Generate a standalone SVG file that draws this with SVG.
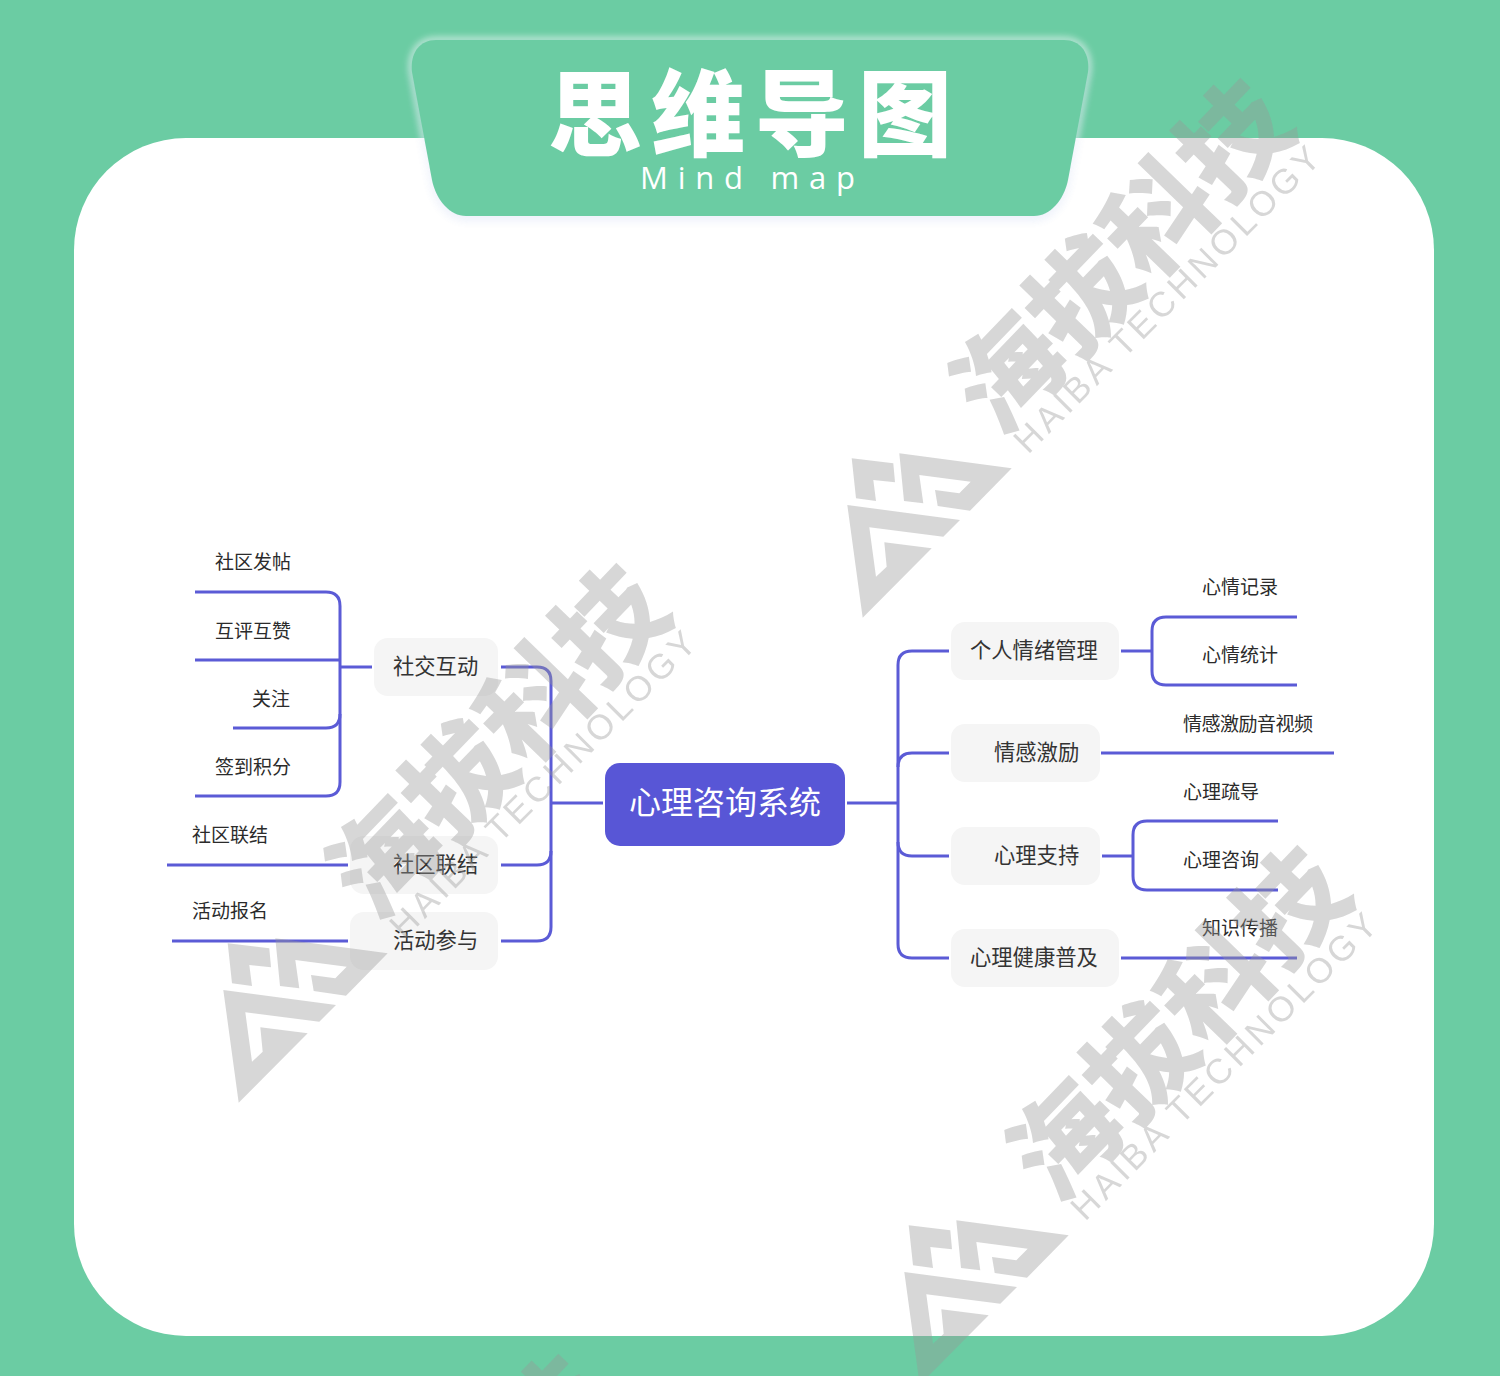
<svg xmlns="http://www.w3.org/2000/svg" width="1500" height="1376" viewBox="0 0 1500 1376">
<style>
text{font-family:"Noto Sans CJK SC","Liberation Sans",sans-serif;dominant-baseline:central}
.box{fill:#f5f5f5}
.n{font-size:21.3px;fill:#333}
.l{font-size:19px;fill:#2b2b2b}
.c{fill:none;stroke:#5b5bd6;stroke-width:3}
.wmT{font-weight:900;font-size:108px}
.wmE{font-family:"Liberation Sans",sans-serif;font-size:35px;dominant-baseline:auto}
</style>
<defs>
<filter id="glow" x="-10%" y="-20%" width="120%" height="140%"><feGaussianBlur stdDeviation="3.5"/></filter>
<filter id="soft" x="-10%" y="-20%" width="120%" height="140%"><feGaussianBlur stdDeviation="5"/></filter>
<path id="tab" d="M436 40H1064C1082 40 1090 55 1088 72L1068 180C1064 200 1050 216 1034 216H466C450 216 436 200 432 180L412 72C410 55 418 40 436 40Z"/>
<g id="wm" fill="#999">
<polygon points="851.7,458.3 893.3,463.3 895,482.3 873.3,480 876,501 856,498.3"/>
<polygon points="899.3,453.3 1011.7,468.3 970,510.7 937.7,506 935,490 959.3,493.3 970.7,481.7 919.3,475 923.3,503.3 904,501"/>
<polygon points="847.3,505 960,520 943.3,536.7 869.3,527.3 876,576.7 886.7,566.7 884.3,542.3 931.7,548.3 862.7,617.7"/>
<text class="wmT" transform="translate(1116 251) rotate(-46)" text-anchor="middle">海拔科技</text>
<text class="wmE" transform="translate(1028 455) rotate(-45)" textLength="416" lengthAdjust="spacing">HAIBA TECHNOLOGY</text>
</g>
</defs>
<rect width="1500" height="1376" fill="#6bcca3"/>
<rect id="panel" x="74" y="138" width="1360" height="1198" rx="112" fill="#fff"/>
<g id="title">
<use href="#tab" fill="#4a6fd0" opacity=".18" transform="translate(0 3)" filter="url(#soft)"/>
<use href="#tab" fill="none" stroke="#fff" stroke-width="5" opacity=".75" filter="url(#glow)"/>
<use href="#tab" fill="#6bcca3"/>
<text x="750" y="108" text-anchor="middle" font-size="94" font-weight="900" fill="#fff" textLength="404" lengthAdjust="spacing">思维导图</text>
<text x="640" y="177" font-size="31" fill="#fff" style="font-family:'Open Sans',sans-serif" textLength="215" lengthAdjust="spacing">Mind map</text>
</g>
<g id="connectors" class="c">
<path class="c" d="M195 592H326Q340 592 340 606V782Q340 796 326 796H195"/>
<path class="c" d="M195 660H340"/>
<path class="c" d="M233 728H326Q340 728 340 714"/>
<path class="c" d="M341 667H372"/>
<path class="c" d="M167 865H348"/>
<path class="c" d="M172 941H348"/>
<path class="c" d="M501 667H537Q551 667 551 681V927Q551 941 537 941H501"/>
<path class="c" d="M501 865H537Q551 865 551 851"/>
<path class="c" d="M551 803H603"/>
<path class="c" d="M847 803H898"/>
<path class="c" d="M949 651H912Q898 651 898 665V944Q898 958 912 958H949"/>
<path class="c" d="M949 753H912Q898 753 898 767"/>
<path class="c" d="M949 856H912Q898 856 898 842"/>
<path class="c" d="M1121 651H1152"/>
<path class="c" d="M1297 617H1166Q1152 617 1152 631V671Q1152 685 1166 685H1297"/>
<path class="c" d="M1101 753H1334"/>
<path class="c" d="M1102 856H1133"/>
<path class="c" d="M1278 821H1147Q1133 821 1133 835V876Q1133 890 1147 890H1278"/>
<path class="c" d="M1121 958H1297"/>
</g>
<g id="root"><rect x="605" y="763" width="240" height="83" rx="15" fill="#5856d6"/><text x="725" y="800" text-anchor="middle" font-size="32" fill="#fff">心理咨询系统</text></g>
<g id="n-social"><rect class="box" x="374" y="638" width="124" height="58" rx="14"/><text class="n" x="393" y="664">社交互动</text></g>
<g id="n-community"><rect class="box" x="350" y="836" width="148" height="58" rx="14"/><text class="n" x="393" y="862">社区联结</text></g>
<g id="n-activity"><rect class="box" x="350" y="912" width="148" height="58" rx="14"/><text class="n" x="393" y="938">活动参与</text></g>
<g id="n-mood"><rect class="box" x="951" y="622" width="168" height="58" rx="14"/><text class="n" x="970" y="648">个人情绪管理</text></g>
<g id="n-encourage"><rect class="box" x="951" y="724" width="149" height="58" rx="14"/><text class="n" x="994" y="750">情感激励</text></g>
<g id="n-support"><rect class="box" x="951" y="827" width="149" height="58" rx="14"/><text class="n" x="994" y="853">心理支持</text></g>
<g id="n-health"><rect class="box" x="951" y="929" width="168" height="58" rx="14"/><text class="n" x="970" y="955">心理健康普及</text></g>
<g id="l1"><text class="l" x="215" y="560">社区发帖</text></g>
<g id="l2"><text class="l" x="215" y="629">互评互赞</text></g>
<g id="l3"><text class="l" x="252" y="697">关注</text></g>
<g id="l4"><text class="l" x="215" y="765">签到积分</text></g>
<g id="l5"><text class="l" x="192" y="833">社区联结</text></g>
<g id="l6"><text class="l" x="192" y="909">活动报名</text></g>
<g id="l7"><text class="l" x="1202" y="585">心情记录</text></g>
<g id="l8"><text class="l" x="1202" y="653">心情统计</text></g>
<g id="l9"><text class="l" x="1183" y="722" textLength="130" lengthAdjust="spacing">情感激励音视频</text></g>
<g id="l10"><text class="l" x="1183" y="790">心理疏导</text></g>
<g id="l11"><text class="l" x="1183" y="858">心理咨询</text></g>
<g id="l12"><text class="l" x="1202" y="926">知识传播</text></g>
<g id="watermarks" opacity=".39">
<use href="#wm"/>
<use href="#wm" transform="translate(-624 485)"/>
<use href="#wm" transform="translate(57 767)"/>
<use href="#wm" transform="translate(-682 1276)"/>
</g>
</svg>
